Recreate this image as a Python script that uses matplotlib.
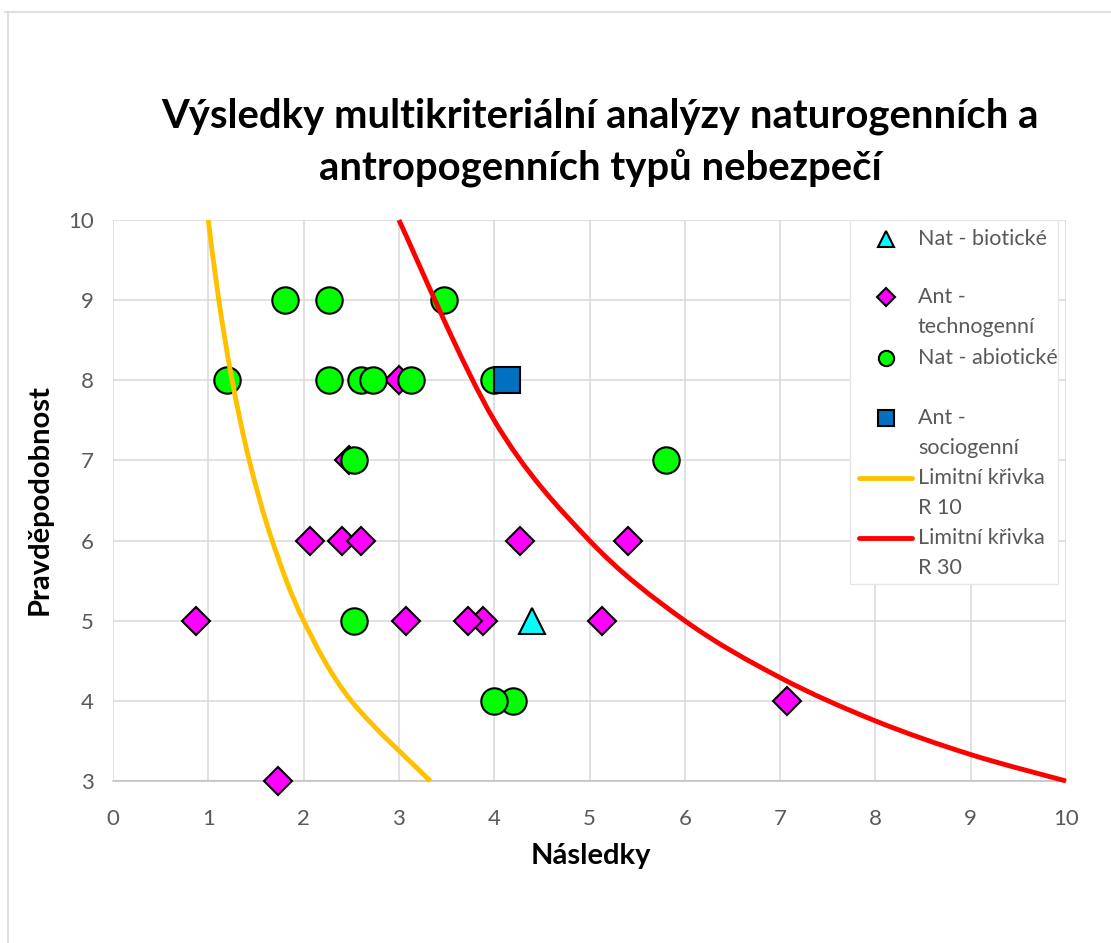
import numpy as np
import matplotlib
matplotlib.use("Agg")
import matplotlib.pyplot as plt
from matplotlib.path import Path
from matplotlib.patches import PathPatch, Rectangle
from matplotlib.lines import Line2D

plt.rcParams['font.family'] = ['Lato', 'DejaVu Sans']

# %% Data
nat_bio_x = [4.40]
nat_bio_y = [5]

ant_tech_x = [3.00, 2.48, 2.07, 2.40, 2.60, 4.27, 5.40, 0.87, 3.07, 3.88, 3.73, 5.13, 7.07, 1.73]
ant_tech_y = [8, 7, 6, 6, 6, 6, 6, 5, 5, 5, 5, 5, 4, 3]

nat_abio_x = [1.80, 2.27, 3.47, 1.20, 2.27, 2.60, 2.73, 3.13, 4.00, 2.53, 5.80, 2.53, 4.20, 4.00]
nat_abio_y = [9, 9, 9, 8, 8, 8, 8, 8, 8, 7, 7, 5, 4, 4]

ant_soc_x = [4.13]
ant_soc_y = [8]

# limit curves (points the smoothed Excel line goes through)
r10_x = [1.00, 1.11, 1.25, 1.43, 1.67, 2.00, 2.50, 3.33]
r10_y = [10, 9, 8, 7, 6, 5, 4, 3]
r30_x = [3, 4, 5, 6, 7, 8, 9, 10]
r30_y = [10.0, 7.5, 6.0, 5.0, 4.29, 3.75, 3.33, 3.0]

labels = ['Nat - biotické', 'Ant -\ntechnogenní', 'Nat - abiotické',
          'Ant -\nsociogenní', 'Limitní křivka\nR 10', 'Limitní křivka\nR 30']

W, H = 1111, 943
GRAY_TXT = '#595959'


def px(x, y):
    # pixel position -> figure fraction
    return x / W, 1 - y / H


def smooth_path(xs, ys):
    # Excel style smoothing: cubic bezier through the points
    pts = np.column_stack([xs, ys]).astype(float)
    n = len(pts)
    verts = [pts[0]]
    codes = [Path.MOVETO]
    for i in range(n - 1):
        p0 = pts[i - 1] if i > 0 else pts[i]
        p1 = pts[i]
        p2 = pts[i + 1]
        p3 = pts[i + 2] if i + 2 < n else pts[i + 1]
        c1 = p1 + (p2 - p0) / 6.0
        c2 = p2 - (p3 - p1) / 6.0
        verts += [c1, c2, p2]
        codes += [Path.CURVE4] * 3
    return Path(verts, codes)


fig = plt.figure(figsize=(W / 100, H / 100), dpi=100)
l, b = px(113, 781)
r, t = px(1066, 220)
ax = fig.add_axes([l, b, r - l, t - b])

ax.set_xlim(0, 10)
ax.set_ylim(3, 10)
ax.set_xticks(range(0, 11))
ax.set_yticks(range(3, 11))
ax.grid(True, color='#d9d9d9', linewidth=1.1, zorder=0)
ax.set_axisbelow(True)
for s in ['top', 'right', 'left']:
    ax.spines[s].set_visible(False)
ax.spines['bottom'].set_color('#bfbfbf')
ax.spines['bottom'].set_linewidth(1.1)
ax.tick_params(length=0, labelsize=16, labelcolor=GRAY_TXT)
ax.tick_params(axis='x', pad=20)
ax.tick_params(axis='y', pad=14)

# markers
mk = dict(ls='none', mec='black', mew=1.5, clip_on=False)
ax.plot(nat_bio_x, nat_bio_y, marker='^', ms=19, mfc='#00ffff', zorder=3, **mk)
ax.plot(ant_tech_x, ant_tech_y, marker='D', ms=14, mfc='#ff00ff', zorder=4, **mk)
for xx, yy in zip(nat_abio_x, nat_abio_y):
    ax.plot(xx, yy, marker='o', ms=19, mfc='#00ff00', zorder=5, **mk)
ax.plot(ant_soc_x, ant_soc_y, marker='s', ms=18.5, mfc='#0070c0', zorder=6, **mk)

# limit curves
ax.add_patch(PathPatch(smooth_path(r10_x, r10_y), fill=False, edgecolor='#ffc000', lw=3.5, zorder=7, clip_on=False))
ax.add_patch(PathPatch(smooth_path(r30_x, r30_y), fill=False, edgecolor='#ff0000', lw=3.5, zorder=8, clip_on=False))

# titles
fig.text(*px(600, 116), 'Výsledky multikriteriální analýzy naturogenních a',
         ha='center', va='center', fontsize=28.8, fontweight='bold')
fig.text(*px(600, 168), 'antropogenních typů nebezpečí',
         ha='center', va='center', fontsize=28.8, fontweight='bold')
fig.text(*px(591, 856), 'Následky', ha='center', va='center', fontsize=21, fontweight='bold')
fig.text(*px(40, 500), 'Pravděpodobnost', ha='center', va='center', fontsize=21,
         fontweight='bold', rotation=90)

# chart border (top and left visible)
fig.add_artist(Line2D([5 / W, 1], [1 - 12 / H, 1 - 12 / H], transform=fig.transFigure, color='#d9d9d9', lw=1.2))
fig.add_artist(Line2D([8 / W, 8 / W], [1 - 12 / H, 0], transform=fig.transFigure, color='#d9d9d9', lw=1.2))

# legend drawn by hand
lx0, ly0 = px(850, 584)
lx1, ly1 = px(1058, 220)
fig.add_artist(Rectangle((lx0, ly0), lx1 - lx0, ly1 - ly0, transform=fig.transFigure,
                         facecolor='white', edgecolor='#e6e6e6', lw=1.0, zorder=2))
entry_y = [239, 297, 358, 418, 478, 538]
styles = [
    dict(marker='^', mfc='#00ffff'),
    dict(marker='D', mfc='#ff00ff'),
    dict(marker='o', mfc='#00ff00'),
    dict(marker='s', mfc='#0070c0'),
    dict(color='#ffc000'),
    dict(color='#ff0000'),
]
for i, (lab, yy, st) in enumerate(zip(labels, entry_y, styles)):
    if 'marker' in st:
        mx, my = px(886, yy)
        ms = 9 if st['marker'] == 'D' else 11
        fig.add_artist(Line2D([mx], [my], transform=fig.transFigure, ls='none', marker=st['marker'],
                              ms=ms, mfc=st['mfc'], mec='black', mew=1.5, zorder=3))
    else:
        x0, my = px(859, yy)
        x1, _ = px(912, yy)
        fig.add_artist(Line2D([x0, x1], [my, my], transform=fig.transFigure, color=st['color'],
                              lw=3.5, solid_capstyle='round', zorder=3))
    for k, line in enumerate(lab.split('\n')):
        fig.text(*px(918, yy + 30 * k), line, ha='left', va='center', fontsize=15.5,
                 color=GRAY_TXT, zorder=4)

fig.savefig('out.png', dpi=100)
